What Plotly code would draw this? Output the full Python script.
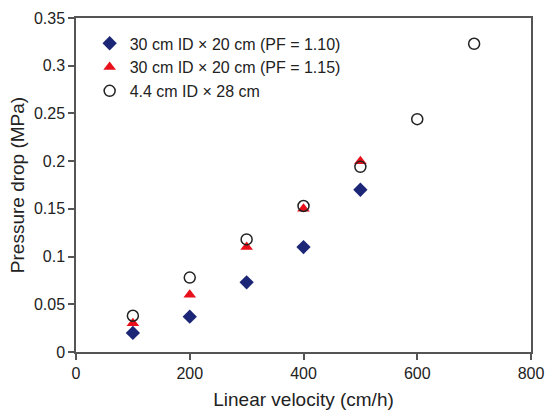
import plotly.graph_objects as go

velocity_a = [100, 200, 300, 400, 500]
pd_pf110 = [0.020, 0.037, 0.073, 0.110, 0.170]
pd_pf115 = [0.030, 0.060, 0.110, 0.150, 0.200]
velocity_b = [100, 200, 300, 400, 500, 600, 700]
pd_small = [0.038, 0.078, 0.118, 0.153, 0.194, 0.244, 0.323]

names = ["30 cm ID \u00d7 20 cm (PF = 1.10)",
         "30 cm ID \u00d7 20 cm (PF = 1.15)",
         "4.4 cm ID \u00d7 28 cm"]
x_ticks = [0, 200, 400, 600, 800]
y_ticks = [0, 0.05, 0.1, 0.15, 0.2, 0.25, 0.3, 0.35]
y_ticklabels = ["0", "0.05", "0.1", "0.15", "0.2", "0.25", "0.3", "0.35"]

fig = go.Figure()
fig.add_trace(go.Scatter(x=velocity_a, y=pd_pf110, mode="markers", name=names[0],
                         marker=dict(symbol="diamond", size=11, color="#1c2677")))
fig.add_trace(go.Scatter(x=velocity_a, y=pd_pf115, mode="markers", name=names[1],
                         marker=dict(symbol="triangle-up", size=11, color="#e8101a")))
fig.add_trace(go.Scatter(x=velocity_b, y=pd_small, mode="markers", name=names[2],
                         marker=dict(symbol="circle-open", size=11, color="#222222",
                                     line=dict(width=1.5, color="#222222"))))

axis_common = dict(showline=True, linecolor="#555555", linewidth=1.5, mirror=True,
                   ticks="outside", ticklen=6, tickcolor="#555555", tickwidth=1.5,
                   showgrid=False, zeroline=False, automargin=False,
                   tickfont=dict(family="Liberation Sans, Arial", size=16, color="#222222"))

fig.update_layout(
    width=549, height=410,
    margin=dict(l=76, r=18, t=18, b=58),
    plot_bgcolor="white", paper_bgcolor="white",
    font=dict(family="Liberation Sans, Arial", color="#222222"),
    showlegend=True,
    legend=dict(x=0.03, y=0.975, xanchor="left", yanchor="top",
                bgcolor="rgba(0,0,0,0)", font=dict(size=16), tracegroupgap=0,
                itemwidth=30),
    xaxis=dict(range=[0, 800], tickvals=x_ticks,
               title=dict(text="Linear velocity (cm/h)", font=dict(size=19), standoff=16),
               **axis_common),
    yaxis=dict(range=[0, 0.35], tickvals=y_ticks, ticktext=y_ticklabels,
               title=dict(text="Pressure drop (MPa)", font=dict(size=19), standoff=4),
               **axis_common),
)

fig.write_html("out.html")
